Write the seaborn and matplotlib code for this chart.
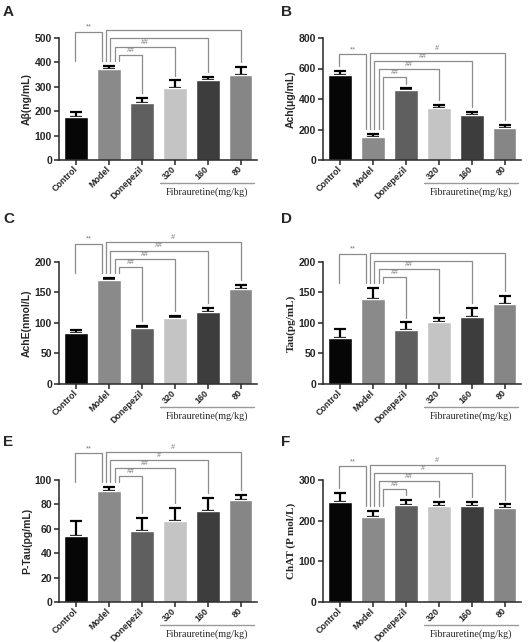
import numpy as np
import pandas as pd
import matplotlib
matplotlib.use("Agg")
import matplotlib.pyplot as plt
import matplotlib.transforms as mtransforms
import seaborn as sns

# groups on the x axis
groups = ["Control", "Model", "Donepezil", "320", "160", "80"]
bar_colors = ["#060606", "#8a8a8a", "#5f5f5f", "#c4c4c4", "#3d3d3d", "#868686"]

# values (mean, upper error)
ab_mean = [178, 372, 233, 296, 329, 350]
ab_err = [18, 14, 23, 30, 12, 32]
ach_mean = [555, 148, 462, 343, 295, 210]
ach_err = [30, 25, 7, 18, 18, 22]
ache_mean = [83, 170, 91, 109, 118, 155]
ache_err = [5, 4, 4, 3, 7, 7]
tau_mean = [76, 139, 88, 102, 110, 131]
tau_err = [14, 18, 13, 7, 14, 13]
ptau_mean = [54, 91, 58, 66, 75, 84]
ptau_err = [12, 3, 11, 11, 10, 4]
chat_mean = [247, 210, 238, 235, 235, 231]
chat_err = [22, 15, 12, 11, 12, 9]

# marks: Control vs Model, then Model vs Donepezil, 320, 160, 80
sig_A = ["**", "##", "##", "", ""]
sig_B = ["**", "##", "##", "##", "#"]
sig_C = ["**", "##", "##", "##", "#"]
sig_D = ["**", "##", "##", "", ""]
sig_E = ["**", "##", "##", "#", "#"]
sig_F = ["**", "##", "##", "#", "#"]

ylabels = ["A\u03b2(ng/mL)", "Ach(\u03bcg/mL)", "AchE(nmol/L)",
           "Tau(pg/mL)", "P-Tau(pg/mL)", "ChAT (P mol/L)"]
ylabel_serif = [False, False, False, True, False, True]
ymaxes = [500, 800, 200, 200, 100, 300]
ysteps = [100, 200, 50, 50, 20, 100]
letters = ["A", "B", "C", "D", "E", "F"]

panels = [
    (ab_mean, ab_err, sig_A),
    (ach_mean, ach_err, sig_B),
    (ache_mean, ache_err, sig_C),
    (tau_mean, tau_err, sig_D),
    (ptau_mean, ptau_err, sig_E),
    (chat_mean, chat_err, sig_F),
]

sns.set_style("ticks")
plt.rcParams['font.family'] = ['Liberation Sans', 'DejaVu Sans']

W, H = 529, 642
fig = plt.figure(figsize=(W / 100, H / 100), dpi=100)

col_left = [59, 323]
row_top = [38, 262, 480]
ax_w, ax_h = 198, 122
letter_pos = [(3, 5), (281, 5), (3, 212), (281, 212), (3, 435), (281, 435)]

sig_gray = "#8c8c8c"

for i, (mean, err, sig) in enumerate(panels):
    r, c = divmod(i, 2)
    ax = fig.add_axes([col_left[c] / W, 1 - (row_top[r] + ax_h) / H, ax_w / W, ax_h / H])
    df = pd.DataFrame({"group": groups, "value": mean, "err": err})

    sns.barplot(data=df, x="group", y="value", hue="group", palette=bar_colors,
                legend=False, width=0.72, errorbar=None, saturation=1, ax=ax, zorder=2)
    xs = np.arange(len(groups))
    ax.errorbar(xs, df["value"], yerr=[np.zeros(len(groups)), df["err"]], fmt="none",
                ecolor="black", elinewidth=1.6, capsize=4.2, capthick=1.6, zorder=1)

    ymax = ymaxes[i]
    ax.set_ylim(0, ymax)
    ax.set_xlim(-0.52, 5.5)
    ax.set_yticks(np.arange(0, ymax + 1, ysteps[i]))
    sns.despine(ax=ax)
    for s in ["left", "bottom"]:
        ax.spines[s].set_linewidth(1.1)
    ax.tick_params(axis="both", width=1.1, length=3.5, pad=1.5, labelsize=7.5)
    ax.tick_params(axis="x", pad=2)
    for t in ax.get_yticklabels():
        t.set_fontweight("bold")
    ax.set_xticks(xs)
    ax.set_xticklabels(groups, rotation=45, ha="right", va="center",
                       rotation_mode="anchor", fontweight="bold", fontsize=6.4)
    ax.set_xlabel("")
    if ylabel_serif[i]:
        ax.set_ylabel(ylabels[i], fontsize=8, fontweight="bold", family="Liberation Serif", labelpad=2)
    else:
        ax.set_ylabel(ylabels[i], fontsize=7.5, fontweight="bold", labelpad=2)

    # dose group underline and caption
    trans = mtransforms.blended_transform_factory(ax.transData, ax.transAxes)
    ax.plot([2.56, 5.42], [-0.185, -0.185], color="#9a9a9a", lw=1.0,
            transform=trans, clip_on=False)
    ax.text(3.99, -0.265, "Fibrauretine(mg/kg)", transform=trans, ha="center", va="center",
            fontsize=7.3, family="Liberation Serif")

    # significance brackets
    tops = df["value"] + df["err"]
    gap = 0.04 * ymax
    step = 0.067 * ymax
    base = max(tops[1], tops[2]) + 0.09 * ymax
    model_end = tops[1] + gap
    model_offsets = [-0.09, 0.04, 0.17, 0.30]   # for 80, 160, 320, Donepezil
    targets = [5, 4, 3, 2]
    target_sig = [sig[4], sig[3], sig[2], sig[1]]
    for k, (tg, lab, off) in enumerate(zip(targets, target_sig, model_offsets)):
        level = base + (3 - k) * step
        x1 = 1 + off
        x2 = tg
        y2 = tops[tg] + gap
        ax.plot([x1, x1, x2, x2], [model_end, level, level, y2], color=sig_gray,
                lw=0.9, clip_on=False, zorder=3)
        if lab:
            ax.annotate(lab, ((x1 + x2) / 2, level), xytext=(0, 0.8), textcoords="offset points",
                        ha="center", va="bottom", fontsize=5, color="#7a7a7a",
                        style="italic", annotation_clip=False)
    # Control vs Model
    level = base + 3 * step - 0.01 * ymax
    ctrl_end = model_end if tops[0] < tops[1] else tops[0] + gap
    x1, x2 = -0.03, 1 - 0.22
    ax.plot([x1, x1, x2, x2], [ctrl_end, level, level, model_end], color=sig_gray,
            lw=0.9, clip_on=False, zorder=3)
    ax.annotate(sig[0], ((x1 + x2) / 2, level), xytext=(0, 0.8), textcoords="offset points",
                ha="center", va="bottom", fontsize=5.5, color="#7a7a7a",
                annotation_clip=False)

    lx, ly = letter_pos[i]
    fig.text(lx / W, 1 - ly / H, letters[i], ha="left", va="top",
             fontsize=11, fontweight="bold")

fig.savefig("out.png", dpi=100)
